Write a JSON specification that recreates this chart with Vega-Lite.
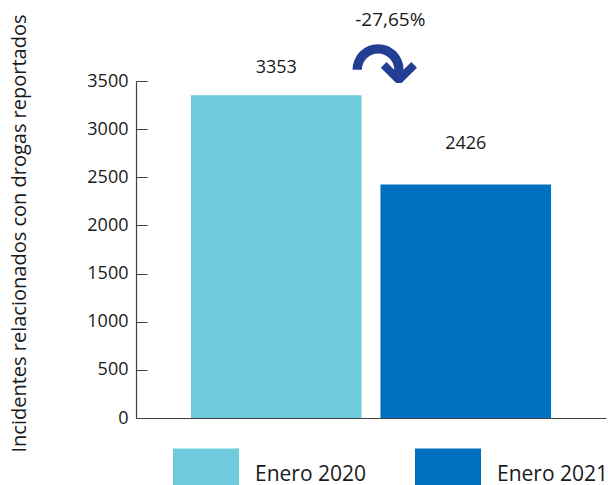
{
  "$schema": "https://vega.github.io/schema/vega-lite/v6.json",
  "width": 470,
  "height": 337,
  "autosize": "none",
  "padding": {"left": 136, "top": 81, "right": 2, "bottom": 67},
  "background": "white",
  "config": {
    "font": "Open Sans",
    "view": {"stroke": null},
    "axis": {"domainColor": "#404040", "tickColor": "#404040", "labelColor": "#1a1a1a", "titleColor": "#1a1a1a", "labelFont": "Open Sans", "titleFont": "Open Sans"}
  },
  "data": {"values": [
    {"periodo": "Enero 2020", "incidentes": 3353},
    {"periodo": "Enero 2021", "incidentes": 2426}
  ]},
  "layer": [
    {
      "mark": {"type": "bar"},
      "encoding": {
        "x": {"field": "periodo", "type": "nominal", "scale": {"paddingInner": 0.1, "paddingOuter": 0.29},
              "axis": {"labels": false, "ticks": false, "title": null, "domainWidth": 1.2}},
        "y": {"field": "incidentes", "type": "quantitative", "scale": {"domain": [0, 3500], "nice": false},
              "axis": {"values": [0, 500, 1000, 1500, 2000, 2500, 3000, 3500], "format": "d", "tickSize": -11, "labelPadding": 19, "labelFontSize": 18, "grid": false, "domainWidth": 1.2,
                       "title": "Incidentes relacionados con drogas reportados", "titleFontSize": 20, "titleFontWeight": "normal",
                       "titleAngle": -90, "titleX": -117, "titleY": 152, "titleAlign": "center", "titleBaseline": "middle"}},
        "color": {"field": "periodo", "type": "nominal", "scale": {"range": ["#6dcbdb", "#0070c0"]},
                  "legend": {"orient": "none", "legendX": 37, "legendY": 361, "direction": "horizontal", "title": null,
                             "symbolType": "M-1,-0.82H1V0.82H-1Z", "symbolSize": 4356, "symbolStrokeWidth": 0, "symbolOpacity": 1,
                             "labelFontSize": 21, "labelOffset": 16, "columnPadding": 48, "labelColor": "#1a1a1a", "padding": 0}}
      }
    },
    {
      "transform": [{"filter": "datum.periodo === 'Enero 2020'"}],
      "mark": {"type": "text", "fontSize": 18, "baseline": "middle", "dy": -27, "color": "#1a1a1a"},
      "encoding": {
        "x": {"field": "periodo", "type": "nominal"},
        "y": {"field": "incidentes", "type": "quantitative"},
        "text": {"field": "incidentes", "type": "quantitative", "format": "d"}
      }
    },
    {
      "transform": [{"filter": "datum.periodo === 'Enero 2021'"}],
      "mark": {"type": "text", "fontSize": 18, "baseline": "middle", "dy": -40, "color": "#1a1a1a"},
      "encoding": {
        "x": {"field": "periodo", "type": "nominal"},
        "y": {"field": "incidentes", "type": "quantitative"},
        "text": {"field": "incidentes", "type": "quantitative", "format": "d"}
      }
    },
    {
      "data": {"values": [{"t": "-27,65%"}]},
      "mark": {"type": "text", "fontSize": 19, "baseline": "middle", "dx": 114, "color": "#1a1a1a"},
      "encoding": {
        "x": {"datum": "Enero 2020"},
        "y": {"datum": 4133},
        "text": {"field": "t"}
      }
    },
    {
      "data": {"values": [{"t": "↷"}]},
      "mark": {"type": "text", "fontSize": 80, "font": "DejaVu Sans", "fontWeight": "bold", "baseline": "middle", "dx": 108, "color": "#233f95"},
      "encoding": {
        "x": {"datum": "Enero 2020"},
        "y": {"datum": 3560},
        "text": {"field": "t"}
      }
    }
  ]
}
